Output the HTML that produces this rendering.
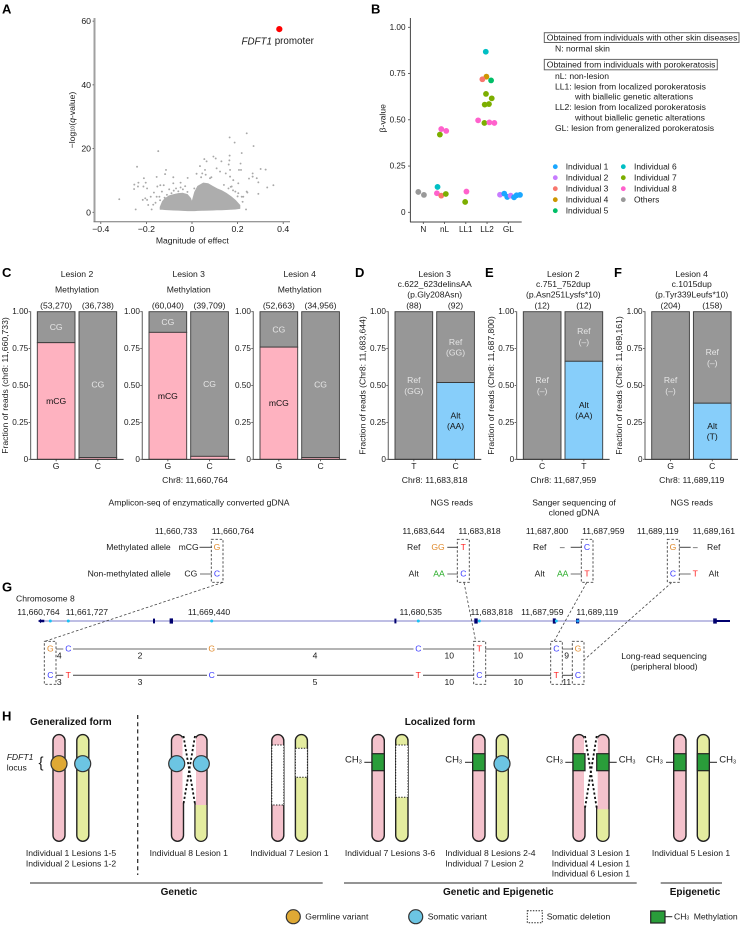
<!DOCTYPE html>
<html lang="en">
<head>
<meta charset="utf-8">
<title>FDFT1 porokeratosis figure</title>
<style>
html,body{margin:0;padding:0;background:#fff;width:741px;height:925px;overflow:hidden}
svg{display:block}
text{font-family:"Liberation Sans",sans-serif;font-size:8.6px;fill:#1a1a1a;dominant-baseline:central}
.letter{font-size:13px;font-weight:bold;fill:#000}
.b10{font-size:10px;font-weight:bold;fill:#111}
.h{font-size:8.6px}
.mid{text-anchor:middle}
.end{text-anchor:end}
.o{fill:#e08a2c}.c{fill:#3a3aff}.t{fill:#ff2020}.g{fill:#22aa22}
.ln1{stroke:#888;stroke-width:1.2;fill:none}
.ln2{stroke:#444;stroke-width:1;fill:none}
.dbox{fill:none;stroke:#444;stroke-width:.9;stroke-dasharray:2.4 1.8}
.conn{stroke:#444;stroke-width:.8;stroke-dasharray:2.6 2;fill:none}
.cp{fill:#f4c2cc;stroke:#222;stroke-width:1.4}
.cy{fill:#e4ec9f;stroke:#222;stroke-width:1.4}
.del{fill:#fff;stroke:#222;stroke-width:1;stroke-dasharray:1.4 1.4}
.me{fill:#2a9d3a;stroke:#222;stroke-width:1.2}
.mel{stroke:#222;stroke-width:1}
.gv{fill:#dfa935;stroke:#333;stroke-width:1.2}
.sv{fill:#6cc5e3;stroke:#333;stroke-width:1.2}
.xo{stroke:#111;stroke-width:1.8;stroke-dasharray:2.2 2.2;fill:none}
.xw{stroke:#fff;stroke-width:2;fill:none}
.gl{stroke:#555;stroke-width:1.3}
</style>
</head>
<body>
<svg id="figure" xmlns="http://www.w3.org/2000/svg" width="741" height="925" viewBox="0 0 741 925">

<!-- panel letters -->
<text class="letter" x="2" y="9">A</text>
<text class="letter" x="371" y="9">B</text>
<text class="letter" x="2" y="272.5">C</text>
<text class="letter" x="355" y="272.5">D</text>
<text class="letter" x="485" y="272.5">E</text>
<text class="letter" x="614" y="272.5">F</text>
<text class="letter" x="2" y="587">G</text>
<text class="letter" x="2" y="716">H</text>

<!-- panel A static titles -->
<g id="panelA"></g>
<text x="241.5" y="41.3" style="font-size:9.8px"><tspan font-style="italic">FDFT1</tspan> promoter</text>
<text class="mid" x="192.3" y="240.7" style="font-size:8.6px">Magnitude of effect</text>
<text class="mid" transform="translate(72 120) rotate(-90)" style="font-size:8.6px">−log<tspan font-size="5.5" dy="1.5">10</tspan><tspan dy="-1.5">(</tspan><tspan font-style="italic">q</tspan>-value)</text>

<!-- panel B -->
<g id="panelB"></g>
<text class="mid" transform="translate(382.7 118.3) rotate(-90)">β-value</text>
<rect x="544.3" y="32.7" width="194.7" height="9.8" fill="#fff" stroke="#666" stroke-width="1"/>
<text x="546.8" y="37.6">Obtained from individuals with other skin diseases</text>
<text x="555" y="48.7">N: normal skin</text>
<rect x="544.3" y="59.4" width="173" height="10.4" fill="#fff" stroke="#666" stroke-width="1"/>
<text x="546.8" y="64.6">Obtained from individuals with porokeratosis</text>
<text x="555" y="76">nL: non-lesion</text>
<text x="555" y="86.3">LL1: lesion from localized porokeratosis</text>
<text x="575" y="96.7">with biallelic genetic alterations</text>
<text x="555" y="107">LL2: lesion from localized porokeratosis</text>
<text x="575" y="117.7">without biallelic genetic alterations</text>
<text x="555" y="128">GL: lesion from generalized porokeratosis</text>

<!-- stacked bars C-F -->
<g id="panelBars"></g>

<!-- lesion headers -->
<text class="mid" x="77" y="274">Lesion 2</text>
<text class="mid" x="77" y="289.3">Methylation</text>
<text class="mid" x="188.7" y="274">Lesion 3</text>
<text class="mid" x="188.7" y="289.3">Methylation</text>
<text class="mid" x="299.7" y="274">Lesion 4</text>
<text class="mid" x="299.7" y="289.3">Methylation</text>
<text class="mid" x="434.7" y="274">Lesion 3</text>
<text class="mid" x="434.7" y="284">c.622_623delinsAA</text>
<text class="mid" x="434.7" y="294.7">(p.Gly208Asn)</text>
<text class="mid" x="563.3" y="274">Lesion 2</text>
<text class="mid" x="563.3" y="284">c.751_752dup</text>
<text class="mid" x="563.3" y="294.7">(p.Asn251Lysfs*10)</text>
<text class="mid" x="691.7" y="274">Lesion 4</text>
<text class="mid" x="691.7" y="284">c.1015dup</text>
<text class="mid" x="691.7" y="294.7">(p.Tyr339Leufs*10)</text>
<text class="mid" x="195" y="480">Chr8: 11,660,764</text>
<text class="mid" x="434.7" y="480">Chr8: 11,683,818</text>
<text class="mid" x="563.3" y="480">Chr8: 11,687,959</text>
<text class="mid" x="691.7" y="480">Chr8: 11,689,119</text>

<!-- methods captions -->
<text class="mid" x="199" y="502.3">Amplicon-seq of enzymatically converted gDNA</text>
<text class="mid" x="451.7" y="502.3">NGS reads</text>
<text class="mid" x="574" y="502.3">Sanger sequencing of</text>
<text class="mid" x="574" y="512.7">cloned gDNA</text>
<text class="mid" x="691.7" y="502.3">NGS reads</text>

<!-- allele schematic -->
<g>
<text class="mid" x="176" y="531">11,660,733</text>
<text class="mid" x="233" y="531">11,660,764</text>
<text class="end" x="170.7" y="547">Methylated allele</text>
<text class="end" x="170.7" y="573.7">Non-methylated allele</text>
<text class="end" x="198.7" y="547">mCG</text>
<text class="end" x="197.3" y="573.7">CG</text>
<line class="ln2" x1="199.5" y1="547.3" x2="212" y2="547.3"/>
<line class="ln1" x1="200" y1="574" x2="212" y2="574"/>
<text class="mid o" x="217" y="547">G</text>
<text class="mid c" x="217" y="573.7">C</text>
<rect class="dbox" x="211.3" y="539.3" width="11.7" height="43"/>

<text class="mid" x="423.5" y="531">11,683,644</text>
<text class="mid" x="479.5" y="531">11,683,818</text>
<text class="mid" x="413.7" y="547">Ref</text>
<text class="mid" x="413.7" y="573.7">Alt</text>
<text class="mid o" x="438" y="547">GG</text>
<text class="mid g" x="439" y="573.7">AA</text>
<line class="ln2" x1="447.3" y1="547.3" x2="458" y2="547.3"/>
<line class="ln1" x1="447.3" y1="574" x2="458" y2="574"/>
<text class="mid t" x="463.3" y="547">T</text>
<text class="mid c" x="463.3" y="573.7">C</text>
<rect class="dbox" x="457.3" y="539.3" width="12" height="43"/>

<text class="mid" x="547" y="531">11,687,800</text>
<text class="mid" x="603.3" y="531">11,687,959</text>
<text class="mid" x="539.7" y="547">Ref</text>
<text class="mid" x="539.7" y="573.7">Alt</text>
<text class="mid" x="562.3" y="547">–</text>
<text class="mid g" x="562.7" y="573.7">AA</text>
<line class="ln2" x1="570.7" y1="547.3" x2="582" y2="547.3"/>
<line class="ln1" x1="570.7" y1="574" x2="582" y2="574"/>
<text class="mid c" x="587" y="547">C</text>
<text class="mid t" x="587" y="573.7">T</text>
<rect class="dbox" x="581.3" y="539.3" width="11.7" height="43"/>

<text class="mid" x="657.8" y="531">11,689,119</text>
<text class="mid" x="713.8" y="531">11,689,161</text>
<text class="mid o" x="673" y="547">G</text>
<text class="mid c" x="673" y="573.7">C</text>
<line class="ln2" x1="679.3" y1="547.3" x2="690.7" y2="547.3"/>
<line class="ln1" x1="679.3" y1="574" x2="690.7" y2="574"/>
<text class="mid" x="695.3" y="547">–</text>
<text class="mid t" x="695.3" y="573.7">T</text>
<text class="mid" x="713.7" y="547">Ref</text>
<text class="mid" x="713.7" y="573.7">Alt</text>
<rect class="dbox" x="667.3" y="539.3" width="12" height="43"/>
</g>

<!-- panel G -->
<g>
<text x="16" y="598.3">Chromosome 8</text>
<text x="17.3" y="612">11,660,764</text>
<text x="65.7" y="612">11,661,727</text>
<text class="mid" x="209" y="612">11,669,440</text>
<text class="mid" x="420.7" y="612">11,680,535</text>
<text class="mid" x="491.7" y="612">11,683,818</text>
<text class="mid" x="542.3" y="612">11,687,959</text>
<text class="mid" x="597.3" y="612">11,689,119</text>
<line x1="38" y1="621" x2="714" y2="621" stroke="#a9a9dc" stroke-width="1.6"/>
<polygon points="38.3,621 41,618.8 41,619.8 44.3,619.8 44.3,622.2 41,622.2 41,623.2" fill="#00006e"/>
<rect x="153" y="618.6" width="2" height="4.8" fill="#00006e"/>
<rect x="169.6" y="618.4" width="3.4" height="5.2" fill="#00006e"/>
<rect x="394.4" y="618.6" width="2" height="4.8" fill="#00006e"/>
<rect x="474.3" y="618.4" width="3.4" height="5.2" fill="#00006e"/>
<rect x="552.8" y="618.4" width="3" height="5.2" fill="#00006e"/>
<rect x="576" y="618.6" width="3.2" height="4.8" fill="#00006e"/>
<rect x="713.2" y="618.4" width="3.6" height="5.2" fill="#00006e"/>
<line x1="716" y1="621" x2="730" y2="621" stroke="#00006e" stroke-width="2"/>
<circle cx="50.3" cy="621" r="1.5" fill="#19c3f5"/>
<circle cx="68.3" cy="621" r="1.5" fill="#19c3f5"/>
<circle cx="211.7" cy="621" r="1.5" fill="#19c3f5"/>
<circle cx="418.3" cy="621" r="1.5" fill="#19c3f5"/>
<circle cx="479.3" cy="621" r="1.5" fill="#19c3f5"/>
<circle cx="556.3" cy="621" r="1.5" fill="#19c3f5"/>
<circle cx="577.7" cy="621" r="1.5" fill="#19a0f5"/>

<line class="conn" x1="222.5" y1="582.5" x2="45" y2="641.3"/>
<line class="conn" x1="464" y1="582.5" x2="475.7" y2="641.3"/>
<line class="conn" x1="586.7" y1="582.5" x2="554" y2="641.3"/>
<line class="conn" x1="671.7" y1="582.5" x2="584" y2="660"/>

<g>
<line class="ln1" x1="56" y1="649" x2="63.3" y2="649"/>
<line class="ln1" x1="73" y1="649" x2="207" y2="649"/>
<line class="ln1" x1="217" y1="649" x2="413.5" y2="649"/>
<line class="ln1" x1="423" y1="649" x2="474" y2="649"/>
<line class="ln1" x1="485" y1="649" x2="551" y2="649"/>
<line class="ln1" x1="562" y1="649" x2="573" y2="649"/>
</g>
<g>
<line class="ln2" x1="56" y1="675.3" x2="63.3" y2="675.3"/>
<line class="ln2" x1="73" y1="675.3" x2="207" y2="675.3"/>
<line class="ln2" x1="217" y1="675.3" x2="413.5" y2="675.3"/>
<line class="ln2" x1="423" y1="675.3" x2="474" y2="675.3"/>
<line class="ln2" x1="485" y1="675.3" x2="551" y2="675.3"/>
<line class="ln2" x1="562" y1="675.3" x2="573" y2="675.3"/>
</g>
<text class="mid o" x="50.3" y="648.7">G</text>
<text class="mid c" x="68.3" y="648.7">C</text>
<text class="mid o" x="211.7" y="648.7">G</text>
<text class="mid c" x="418.3" y="648.7">C</text>
<text class="mid t" x="479.3" y="648.7">T</text>
<text class="mid c" x="556.3" y="648.7">C</text>
<text class="mid o" x="578" y="648.7">G</text>
<text class="mid c" x="50.3" y="675">C</text>
<text class="mid t" x="68.3" y="675">T</text>
<text class="mid c" x="211.7" y="675">C</text>
<text class="mid t" x="418.3" y="675">T</text>
<text class="mid c" x="479.3" y="675">C</text>
<text class="mid t" x="556.3" y="675">T</text>
<text class="mid c" x="578" y="675">C</text>
<rect class="dbox" x="44.3" y="641.3" width="11.7" height="43"/>
<rect class="dbox" x="473.7" y="641.3" width="12" height="43"/>
<rect class="dbox" x="550.7" y="641.3" width="11.6" height="43"/>
<rect class="dbox" x="572.3" y="641.3" width="11.7" height="43"/>
<text class="mid" x="59.3" y="655.7">4</text>
<text class="mid" x="140" y="655.7">2</text>
<text class="mid" x="315" y="655.7">4</text>
<text class="mid" x="449.3" y="655.7">10</text>
<text class="mid" x="518.3" y="655.7">10</text>
<text class="mid" x="566.7" y="655.7">9</text>
<text class="mid" x="59.3" y="682">3</text>
<text class="mid" x="140" y="682">3</text>
<text class="mid" x="315" y="682">5</text>
<text class="mid" x="449.3" y="682">10</text>
<text class="mid" x="518.3" y="682">10</text>
<text class="mid" x="566.7" y="682">11</text>
<text class="mid" x="664" y="656">Long-read sequencing</text>
<text class="mid" x="664" y="666.3">(peripheral blood)</text>
</g>

<!-- panel H -->
<g>
<text class="b10" x="30" y="722.7">Generalized form</text>
<text class="b10 mid" x="440" y="722.7">Localized form</text>
<text class="h" x="6.7" y="757" font-style="italic">FDFT1</text>
<text class="h" x="6.7" y="767.3">locus</text>
<text class="mid" x="41" y="763" style="font-size:15px;font-weight:300">{</text>
<line x1="137.7" y1="715" x2="137.7" y2="875" stroke="#222" stroke-width="1.2" stroke-dasharray="4 3.2"/>

<!-- pair 1 -->
<g>
<rect class="cp" x="53" y="734.6" width="12" height="106.7" rx="6"/>
<rect class="cy" x="76.8" y="734.6" width="12" height="106.7" rx="6"/>
<circle class="gv" cx="59" cy="763.7" r="8"/>
<circle class="sv" cx="82.7" cy="763.7" r="8"/>
</g>
<!-- pair 2 -->
<g>
<rect class="cp" x="171.5" y="734.6" width="12" height="106.7" rx="6"/>
<rect class="cp" x="195" y="734.6" width="12" height="106.7" rx="6"/>
<path d="M195.6 805 H206.4 V835 A5.4 5.4 0 0 1 201 840.7 A5.4 5.4 0 0 1 195.6 835 Z" fill="#e4ec9f"/>
<line class="xw" x1="183.5" y1="737" x2="183.5" y2="803"/>
<line class="xw" x1="195" y1="737" x2="195" y2="803"/>
<line class="xo" x1="183.5" y1="736" x2="195" y2="804"/>
<line class="xo" x1="195" y1="736" x2="183.5" y2="804"/>
<circle class="sv" cx="176.7" cy="763.7" r="8"/>
<circle class="sv" cx="201.3" cy="763.7" r="8"/>
</g>
<!-- pair 3 -->
<g>
<rect class="cp" x="271.8" y="734.6" width="12" height="106.7" rx="6"/>
<rect class="cy" x="295.4" y="734.6" width="12" height="106.7" rx="6"/>
<rect class="del" x="271.8" y="745" width="12" height="60"/>
<rect class="del" x="295.4" y="748.3" width="12" height="29"/>
</g>
<!-- pair 4 -->
<g>
<rect class="cp" x="372" y="734.6" width="12.3" height="106.7" rx="6"/>
<rect class="cy" x="395.7" y="734.6" width="12.3" height="106.7" rx="6"/>
<rect class="del" x="395.7" y="745" width="12.3" height="52.3"/>
<rect class="me" x="372" y="753.7" width="12.3" height="17"/>
<line class="mel" x1="364.3" y1="762.3" x2="372" y2="762.3"/>
<text x="345" y="760" class="h" style="font-size:9.5px">CH<tspan font-size="5.5" dy="2.5">3</tspan></text>
</g>
<!-- pair 5 -->
<g>
<rect class="cp" x="472.7" y="734.6" width="12.3" height="106.7" rx="6"/>
<rect class="cy" x="496.3" y="734.6" width="12" height="106.7" rx="6"/>
<rect class="me" x="472.7" y="753.7" width="12.3" height="17"/>
<circle class="sv" cx="502" cy="763.7" r="8"/>
<line class="mel" x1="465" y1="762.3" x2="472.7" y2="762.3"/>
<text x="445.3" y="760" class="h" style="font-size:9.5px">CH<tspan font-size="5.5" dy="2.5">3</tspan></text>
</g>
<!-- pair 6 -->
<g>
<rect class="cp" x="573" y="734.6" width="12" height="106.7" rx="6"/>
<rect class="cp" x="596.7" y="734.6" width="12.3" height="106.7" rx="6"/>
<path d="M597.3 809.3 H608.4 V835 A5.5 5.5 0 0 1 602.9 840.7 A5.5 5.5 0 0 1 597.3 835 Z" fill="#e4ec9f"/>
<line class="xw" x1="585" y1="737" x2="585" y2="806"/>
<line class="xw" x1="596.7" y1="737" x2="596.7" y2="806"/>
<line class="xo" x1="585" y1="736" x2="596.7" y2="808"/>
<line class="xo" x1="596.7" y1="736" x2="585" y2="808"/>
<rect class="me" x="573" y="753.7" width="12" height="17"/>
<rect class="me" x="596.7" y="753.7" width="12.3" height="17"/>
<line class="mel" x1="565.3" y1="762.3" x2="573" y2="762.3"/>
<line class="mel" x1="609" y1="762.3" x2="616.7" y2="762.3"/>
<text x="546" y="760" class="h" style="font-size:9.5px">CH<tspan font-size="5.5" dy="2.5">3</tspan></text>
<text x="618.7" y="760" class="h" style="font-size:9.5px">CH<tspan font-size="5.5" dy="2.5">3</tspan></text>
</g>
<!-- pair 7 -->
<g>
<rect class="cp" x="673.7" y="734.6" width="12.3" height="106.7" rx="6"/>
<rect class="cy" x="697.3" y="734.6" width="12" height="106.7" rx="6"/>
<rect class="me" x="673.7" y="753.7" width="12.3" height="17"/>
<rect class="me" x="697.3" y="753.7" width="12" height="17"/>
<line class="mel" x1="666" y1="762.3" x2="673.7" y2="762.3"/>
<line class="mel" x1="709.3" y1="762.3" x2="717" y2="762.3"/>
<text x="646" y="760" class="h" style="font-size:9.5px">CH<tspan font-size="5.5" dy="2.5">3</tspan></text>
<text x="719.3" y="760" class="h" style="font-size:9.5px">CH<tspan font-size="5.5" dy="2.5">3</tspan></text>
</g>

<text class="h mid" x="71" y="853">Individual 1 Lesions 1-5</text>
<text class="h mid" x="71" y="863.3">Individual 2 Lesions 1-2</text>
<text class="h mid" x="188.8" y="853">Individual 8 Lesion 1</text>
<text class="h mid" x="289.5" y="853">Individual 7 Lesion 1</text>
<text class="h mid" x="390" y="853">Individual 7 Lesions 3-6</text>
<text class="h" x="445.3" y="853">Individual 8 Lesions 2-4</text>
<text class="h" x="445.3" y="863.3">Individual 7 Lesion 2</text>
<text class="h" x="551.7" y="853">Individual 3 Lesion 1</text>
<text class="h" x="551.7" y="863.3">Individual 4 Lesion 1</text>
<text class="h" x="551.7" y="873.7">Individual 6 Lesion 1</text>
<text class="h mid" x="691" y="853">Individual 5 Lesion 1</text>

<line class="gl" x1="30" y1="883" x2="322.7" y2="883"/>
<line class="gl" x1="344" y1="883" x2="636.7" y2="883"/>
<line class="gl" x1="660.7" y1="883" x2="722" y2="883"/>
<text class="b10 mid" x="179" y="892.7">Genetic</text>
<text class="b10 mid" x="498.3" y="892.7">Genetic and Epigenetic</text>
<text class="b10 mid" x="695" y="892.7">Epigenetic</text>
</g>

<!-- legend H -->
<g>
<circle class="gv" cx="293.3" cy="916.7" r="7"/>
<text class="h" x="305.3" y="916.7">Germline variant</text>
<circle class="sv" cx="415.7" cy="916.7" r="7"/>
<text class="h" x="427.7" y="916.7">Somatic variant</text>
<rect class="del" x="527.3" y="910.7" width="15" height="12"/>
<text class="h" x="546.7" y="916.7">Somatic deletion</text>
<rect class="me" x="650.7" y="911" width="14.3" height="12"/>
<line class="mel" x1="665" y1="916.7" x2="672.3" y2="916.7"/>
<text class="h" x="674" y="916.7">CH<tspan font-size="5" dy="2">3</tspan><tspan dy="-2" x="693.7">Methylation</tspan></text>
</g>
</svg>

<script>
/* ---------- Panel A data ---------- */
const volcanoXTicks = [-0.4, -0.2, 0, 0.2, 0.4];
const volcanoXLabels = ['−0.4', '−0.2', '0', '0.2', '0.4'];
const volcanoYTicks = [0, 20, 40, 60];
const promoterEffect = [0.383];
const promoterLogQ = [57.5];
const denseEffect = [-0.14,-0.13,-0.12,-0.10,-0.08,-0.06,-0.04,-0.02,-0.006,0,0.004,0.012,0.025,0.05,0.07,0.09,0.11,0.13,0.15,0.17,0.19,0.21];
const denseTop = [1.6,3.4,4.2,5.2,5.6,5.9,6.0,5.6,4.4,3.2,4.4,6.4,8.2,9.2,9.0,8.2,7.4,6.8,6.0,5.0,3.8,2.2];
const denseBottom = [0.9,0.9,0.85,0.8,0.7,0.65,0.55,0.5,0.5,0.5,0.5,0.5,0.55,0.6,0.65,0.7,0.75,0.8,0.85,0.9,1.0,1.2];
const sparseEffect = [0.240,0.165,0.187,0.270,0.218,-0.148,0.094,0.104,0.165,0.054,0.164,0.129,0.064,0.213,0.161,-0.241,0.035,0.301,0.323,-0.114,0.206,0.215,0.167,0.266,-0.155,-0.118,-0.211,-0.019,0.020,0.250,0.266,0.284,0.291,0.357,0.330,0.243,0.291,-0.319,-0.247,0.237,-0.254,-0.253,-0.235,-0.237,-0.203,-0.213,-0.197,-0.124,-0.139,-0.082,-0.082,-0.050,-0.070,-0.177,-0.205,-0.216,-0.197,-0.152,-0.167,-0.181,-0.155,-0.192,-0.143,-0.132,0.181,0.203,0.174,0.225,0.240,0.222,0.218,0.203,0.167,0.148,0.123,0.108,0.079,0.045,0.057,0.14,0.16,0.17,0.19,0.20,0.085,0.04,0.01,-0.02,-0.04,-0.06,-0.08,-0.09,-0.11,-0.12,-0.14,-0.16,-0.17,-0.10,-0.05,-0.03,0.06,0.18];
const sparseLogQ = [24.8,23.5,21.9,20.8,18.6,19.2,17.5,16.9,17.8,16.7,16.3,16.0,16.0,15.3,15.0,14.3,14.5,13.6,13.4,13.3,13.3,13.3,13.3,12.2,11.1,12.0,10.7,10.8,12.1,10.6,11.2,10.7,9.4,8.5,7.8,6.2,5.8,4.1,0.9,0.9,7.3,8.7,9.3,8.1,9.3,8.1,7.5,8.5,8.5,11.0,9.1,9.3,7.5,0.9,4.4,3.9,3.9,8.1,6.2,4.9,4.9,2.3,4.9,6.5,10.1,9.1,8.1,4.9,6.5,3.3,4.9,6.0,11.2,12.2,12.8,13.8,10.7,12.2,13.3,8.6,7.5,8.0,6.5,5.0,11.0,11.0,7.5,6.4,7.2,6.6,6.8,6.0,5.5,4.6,3.8,3.0,2.4,7.2,7.8,8.2,11.8,6.9];

/* ---------- Panel B data ---------- */
const betaCategories = ['N', 'nL', 'LL1', 'LL2', 'GL'];
const betaTicks = [0, 0.25, 0.5, 0.75, 1];
const betaTickLabels = ['0', '0.25', '0.50', '0.75', '1.00'];
const individualNames = ['Individual 1','Individual 2','Individual 3','Individual 4','Individual 5','Individual 6','Individual 7','Individual 8','Others'];
const individualColors = ['#1aa7ff','#c77cff','#f8766d','#cd9600','#00be67','#00bfc4','#7cae00','#ff61cc','#999999'];
const pointCategory = [0,0,1,1,1,1,1,1,1,2,2,3,3,3,3,3,3,3,3,3,3,3,3,4,4,4,4,4,4,4];
const pointJitter = [-0.235,0.03,-0.33,-0.36,-0.155,0.06,-0.155,0.08,-0.22,0.03,-0.03,-0.06,-0.03,-0.22,0.19,-0.05,0.22,-0.11,0.09,-0.42,-0.125,0.11,0.345,-0.39,-0.19,-0.05,0.11,0.27,0.39,0.55];
const pointBeta = [0.11,0.094,0.137,0.103,0.09,0.099,0.45,0.44,0.42,0.112,0.056,0.868,0.733,0.719,0.713,0.64,0.616,0.582,0.585,0.497,0.483,0.486,0.483,0.095,0.101,0.083,0.09,0.081,0.092,0.094];
const pointIndividual = [8,8,5,7,2,6,7,7,6,7,6,5,3,2,4,6,6,6,6,7,6,7,7,1,0,0,1,0,0,0];

/* ---------- Panels C-F data ---------- */
const stackTicks = [0, 0.25, 0.5, 0.75, 1];
const stackTickLabels = ['0', '0.25', '0.50', '0.75', '1.00'];
const c1Categories = ['G', 'C'];
const c1Lower = [0.79, 0.012];
const c1Counts = ['(53,270)', '(36,738)'];
const c2Categories = ['G', 'C'];
const c2Lower = [0.86, 0.02];
const c2Counts = ['(60,040)', '(39,709)'];
const c3Categories = ['G', 'C'];
const c3Lower = [0.76, 0.012];
const c3Counts = ['(52,663)', '(34,956)'];
const dCategories = ['T', 'C'];
const dLower = [0, 0.52];
const dCounts = ['(88)', '(92)'];
const eCategories = ['C', 'T'];
const eLower = [0, 0.664];
const eCounts = ['(12)', '(12)'];
const fCategories = ['G', 'C'];
const fLower = [0, 0.38];
const fCounts = ['(204)', '(158)'];

const SVGNS = 'http://www.w3.org/2000/svg';
function mk(tag, attrs, parent) {
  const e = document.createElementNS(SVGNS, tag);
  for (const k in attrs) e.setAttribute(k, attrs[k]);
  parent.appendChild(e);
  return e;
}
function label(str, x, y, anchor, style, parent) {
  const e = mk('text', { x: x, y: y, 'text-anchor': anchor }, parent);
  if (style) e.setAttribute('style', style);
  e.textContent = str;
  return e;
}

/* Panel A */
(function () {
  const g = document.getElementById('panelA');
  const sx = v => 192 + 228 * v;
  const sy = v => 212.3 - 3.186 * v;

  const yAxis = mk('line', { x1: 94.5, y1: 18, x2: 94.5, y2: 222, stroke: '#a0a0a0', 'stroke-width': 2 }, g);
  
  
  const xAxis = mk('line', { x1: 93.5, y1: 221.8, x2: 290, y2: 221.8, stroke: '#777', 'stroke-width': 1 }, g);
  
  

  volcanoYTicks.forEach(v => {
    const tick = mk('line', { x1: 92.5, x2: 94, y1: sy(v), y2: sy(v), stroke: '#555', 'stroke-width': 0.8 }, g);
    
    
    const t = label(String(v), 91, sy(v), 'end', 'font-size:8.7px', g);
    
    
  });
  volcanoXTicks.forEach((v, i) => {
    const tick = mk('line', { y1: 222, y2: 224, x1: sx(v), x2: sx(v), stroke: '#555', 'stroke-width': 0.8 }, g);
    
    
    const t = label(volcanoXLabels[i], sx(v), 229, 'middle', 'font-size:8.7px', g);
    
    
  });

  let d = '';
  denseEffect.forEach((v, i) => { d += (i ? 'L' : 'M') + sx(v).toFixed(1) + ' ' + sy(denseTop[i]).toFixed(1); });
  for (let i = denseEffect.length - 1; i >= 0; i--) { d += 'L' + sx(denseEffect[i]).toFixed(1) + ' ' + sy(denseBottom[i]).toFixed(1); }
  const area = mk('path', { d: d + 'Z', fill: '#adadad', stroke: '#adadad', 'stroke-width': 0.8, 'stroke-linejoin': 'round' }, g);
  
  

  sparseEffect.forEach((v, i) => {
    const p = mk('circle', { cx: sx(v), cy: sy(sparseLogQ[i]), r: 0.95, fill: '#a8a8a8' }, g);
    
    
  });
  promoterEffect.forEach((v, i) => {
    const p = mk('circle', { cx: sx(v), cy: sy(promoterLogQ[i]), r: 3.1, fill: '#ff0000' }, g);
    
    
  });
})();

/* Panel B */
(function () {
  const g = document.getElementById('panelB');
  const sy = v => 212.3 - 185 * v;
  const sx = c => 423.3 + 21.25 * c;

  const yAxis = mk('line', { x1: 410.4, y1: 18, x2: 410.4, y2: 222, stroke: '#444', 'stroke-width': 1 }, g);
  
  
  const xAxis = mk('line', { x1: 410, y1: 222, x2: 521.7, y2: 222, stroke: '#444', 'stroke-width': 1 }, g);
  
  

  betaTicks.forEach((v, i) => {
    const tick = mk('line', { x1: 408, x2: 410, y1: sy(v), y2: sy(v), stroke: '#444', 'stroke-width': 0.8 }, g);
    
    
    const t = label(betaTickLabels[i], 405.5, sy(v), 'end', 'font-size:8.2px', g);
    
    
  });
  betaCategories.forEach((c, i) => {
    const tick = mk('line', { y1: 222, y2: 224, x1: sx(i), x2: sx(i), stroke: '#444', 'stroke-width': 0.8 }, g);
    
    
    const t = label(c, sx(i), 229.3, 'middle', 'font-size:8.2px', g);
    
    
  });
  pointBeta.forEach((v, i) => {
    const p = mk('circle', { cx: sx(pointCategory[i] + pointJitter[i]), cy: sy(v), r: 2.9, fill: individualColors[pointIndividual[i]] }, g);
    
    
  });
  individualNames.forEach((n, i) => {
    const col = i < 5 ? 0 : 1;
    const row = i < 5 ? i : i - 5;
    const swatch = mk('circle', { cx: 555.3 + col * 68, cy: 166.7 + row * 11, r: 2.4, fill: individualColors[i] }, g);
    
    
    const t = label(n, 565.7 + col * 68.3, 166.7 + row * 11, 'start', 'font-size:8.45px', g);
    
    
  });
})();

/* Panels C-F */
function drawStack(left, categories, lower, counts, yTitle, lowerColor, lowerText, upperText, name) {
  const root = document.getElementById('panelBars');
  const g = mk('g', {}, root);
  
  

  const sy = v => 459.3 - 147.6 * v;
  const barW = 37.7;
  const sx = i => left + 6.7 + i * 41.7;

  const title = label(yTitle, 0, 0, 'middle', '', g);
  title.setAttribute('transform', 'translate(' + (left - 25.8) + ' 385.5) rotate(-90)');
  
  

  stackTicks.forEach((v, i) => {
    const tick = mk('line', { x1: left - 2, x2: left, y1: sy(v), y2: sy(v), stroke: '#444', 'stroke-width': 0.8 }, g);
    
    
    const t = label(stackTickLabels[i], left - 2.4, sy(v), 'end', 'font-size:8.2px', g);
    
    
  });

  categories.forEach((cat, i) => {
    const v = lower[i];
    const cx = sx(i) + barW / 2;
    const top = mk('rect', { x: sx(i), y: sy(1), width: barW, height: sy(v) - sy(1), fill: '#979797', stroke: '#3a3a3a', 'stroke-width': 0.9 }, g);
    
    
    if (v > 0) {
      const low = mk('rect', { x: sx(i), y: sy(v), width: barW, height: sy(0) - sy(v), fill: lowerColor, stroke: '#3a3a3a', 'stroke-width': 0.9 }, g);
      
      
    }
    const upMid = sy((v + 1) / 2);
    const upLines = upperText;
    upLines.forEach((s, k) => {
      const t = label(s, cx, upMid + (k - (upLines.length - 1) / 2) * 10.6, 'middle', 'fill:#e6e6e6', g);
      
      
    });
    if (v > 0.1) {
      const lowMid = sy(v / 2);
      lowerText.forEach((s, k) => {
        const t = label(s, cx, lowMid + (k - (lowerText.length - 1) / 2) * 10.6, 'middle', 'fill:#111', g);
        
        
      });
    }
    const count = label(counts[i], cx, 305.7, 'middle', '', g);
    
    
    const tick = mk('line', { x1: cx, x2: cx, y1: 459.3, y2: 461.3, stroke: '#444', 'stroke-width': 0.8 }, g);
    
    
    const lab = label(cat, cx, 466, 'middle', '', g);
    
    
  });

  const yAxis = mk('line', { x1: left, y1: 311.2, x2: left, y2: 459.8, stroke: '#777', 'stroke-width': 1.2 }, g);
  
  
  const xAxis = mk('line', { x1: left, y1: 459.4, x2: left + 93, y2: 459.4, stroke: '#333', 'stroke-width': 1 }, g);
  
  
}

const pinkFill = '#feb2c0';
const blueFill = '#87cefa';
drawStack(30.6, c1Categories, c1Lower, c1Counts, 'Fraction of reads (chr8: 11,660,733)', pinkFill, ['mCG'], ['CG'], 'methylation-bars-lesion-2');
drawStack(142.3, c2Categories, c2Lower, c2Counts, '', pinkFill, ['mCG'], ['CG'], 'methylation-bars-lesion-3');
drawStack(253.3, c3Categories, c3Lower, c3Counts, '', pinkFill, ['mCG'], ['CG'], 'methylation-bars-lesion-4');
drawStack(388.3, dCategories, dLower, dCounts, 'Fraction of reads (Chr8: 11,683,644)', blueFill, ['Alt', '(AA)'], ['Ref', '(GG)'], 'variant-bars-d');
drawStack(516.6, eCategories, eLower, eCounts, 'Fraction of reads (Chr8: 11,687,800)', blueFill, ['Alt', '(AA)'], ['Ref', '(–)'], 'variant-bars-e');
drawStack(645, fCategories, fLower, fCounts, 'Fraction of reads (Chr8: 11,689,161)', blueFill, ['Alt', '(T)'], ['Ref', '(–)'], 'variant-bars-f');
</script>
</body>
</html>
